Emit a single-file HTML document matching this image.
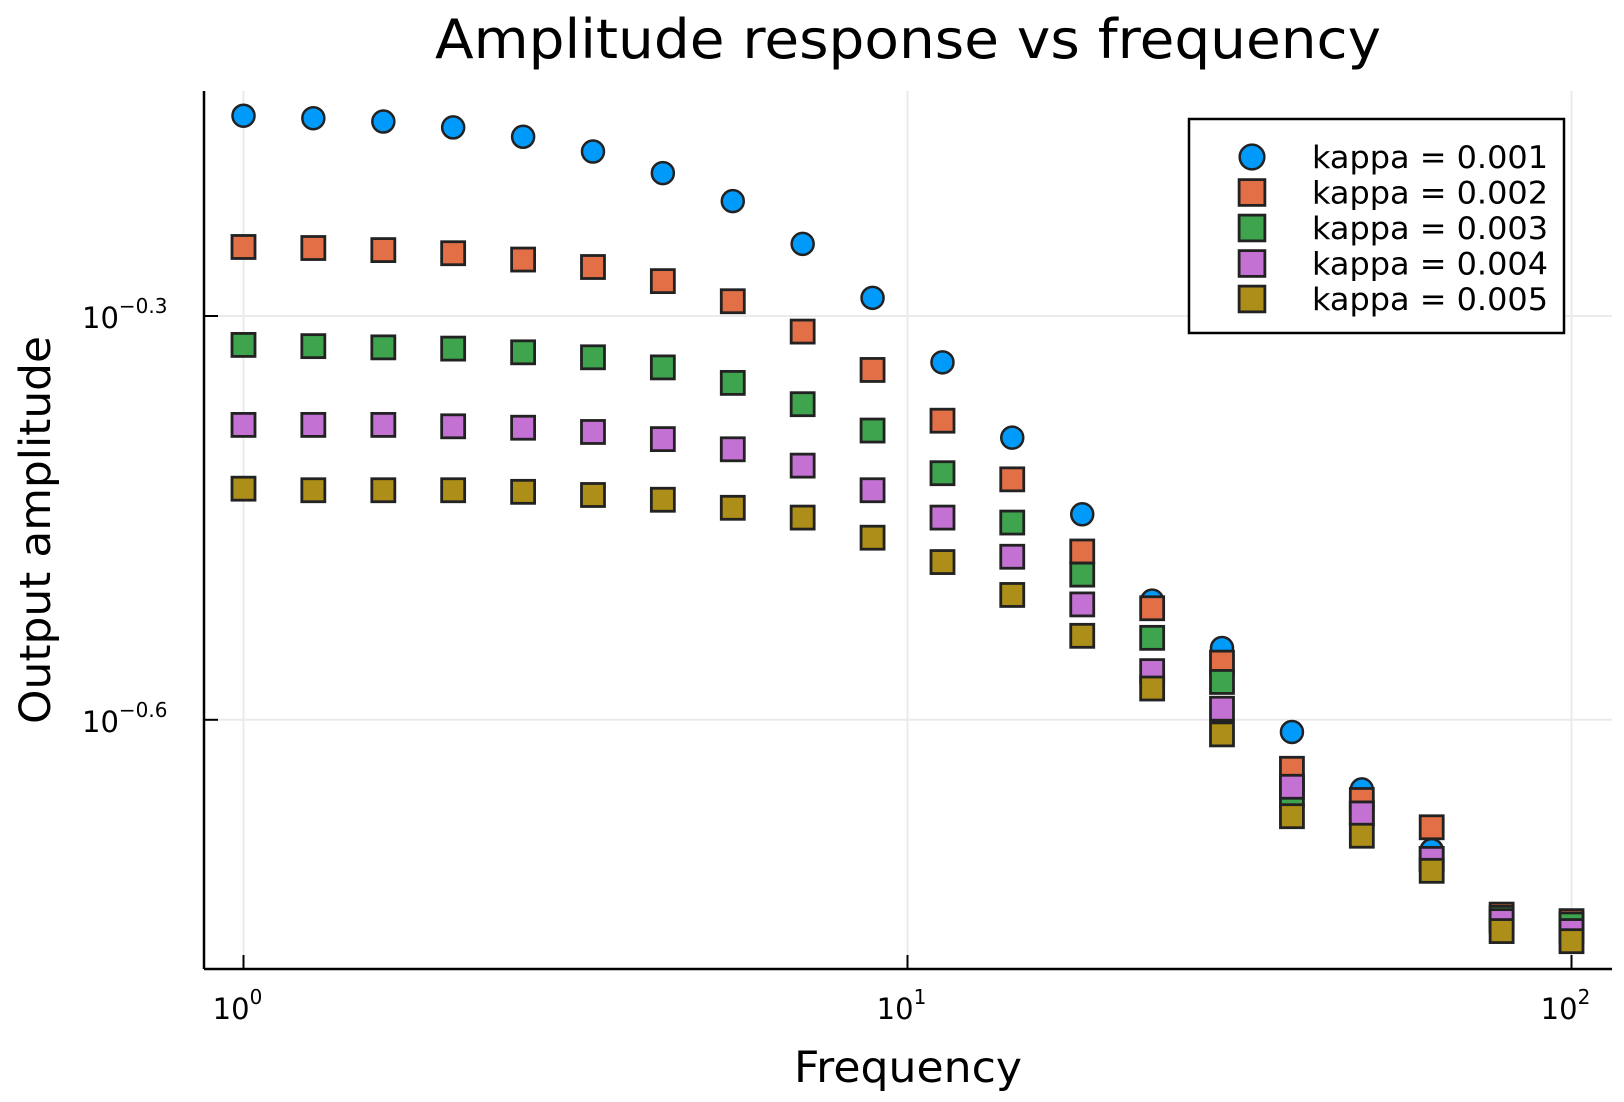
<!DOCTYPE html>
<html><head><meta charset="utf-8"><style>
html,body{margin:0;padding:0;background:#fff;}
svg{display:block;font-family:"DejaVu Sans","Liberation Sans",sans-serif;}
</style></head><body>
<svg id="chart" width="1624" height="1102" viewBox="0 0 1624 1102" xmlns="http://www.w3.org/2000/svg">
<rect width="1624" height="1102" fill="#fff"/>
<text x="908" y="58" text-anchor="middle" font-size="54" textLength="946" lengthAdjust="spacingAndGlyphs" fill="#000">Amplitude response vs frequency</text>
<text x="908" y="1082" text-anchor="middle" font-size="43" textLength="228" lengthAdjust="spacingAndGlyphs" fill="#000">Frequency</text>
<text transform="translate(50,530) rotate(-90)" text-anchor="middle" font-size="43" textLength="388" lengthAdjust="spacingAndGlyphs" fill="#000">Output amplitude</text>
<g id="grid"></g>
<g id="axes"></g>
<g id="marks"></g>
<g id="legend"></g>
</svg>
<script>
const freqs=[1,1.274,1.624,2.069,2.637,3.360,4.281,5.456,6.952,8.859,11.29,14.38,18.33,23.36,29.76,37.93,48.33,61.58,78.48,100];
const k001=[0.706,0.703,0.699,0.692,0.681,0.664,0.640,0.610,0.567,0.517,0.463,0.407,0.357,0.308,0.284,0.246,0.223,0.201,0.180,0.177];
const k002=[0.564,0.563,0.561,0.558,0.552,0.545,0.532,0.514,0.488,0.457,0.419,0.379,0.335,0.304,0.277,0.231,0.219,0.209,0.180,0.178];
const k003=[0.477,0.476,0.475,0.474,0.471,0.467,0.459,0.447,0.431,0.412,0.383,0.352,0.322,0.289,0.268,0.221,0.214,0.198,0.179,0.177];
const k004=[0.416,0.416,0.416,0.415,0.414,0.411,0.406,0.399,0.388,0.372,0.355,0.332,0.306,0.273,0.256,0.224,0.214,0.198,0.178,0.175];
const k005=[0.373,0.372,0.372,0.372,0.371,0.369,0.366,0.361,0.355,0.343,0.329,0.311,0.290,0.265,0.245,0.213,0.206,0.194,0.175,0.172];
const seriesNames=["kappa = 0.001","kappa = 0.002","kappa = 0.003","kappa = 0.004","kappa = 0.005"];
const xTickExps=["0","1","2"];
const yTickExps=["-0.3","-0.6"];

const NS="http://www.w3.org/2000/svg";
const L=204,R=1612,T=91,B=969;
function xs(f){return 243.5+Math.log10(f)*664;}
function ys(v){return 316+(-0.3-Math.log10(v))*1346;}
function mk(tag,attrs,parent){const e=document.createElementNS(NS,tag);for(const k in attrs)e.setAttribute(k,attrs[k]);parent.appendChild(e);return e;}
const grid=document.getElementById('grid'),axes=document.getElementById('axes'),marks=document.getElementById('marks'),leg=document.getElementById('legend');

xTickExps.forEach(e=>{
  const x=xs(Math.pow(10,+e));
  const g=mk('line',{x1:x,x2:x,y1:T,y2:B,stroke:'#ebebeb','stroke-width':2},grid);
  
  
  const t=mk('line',{x1:x,x2:x,y1:B,y2:B-14,stroke:'#000','stroke-width':2},axes);
  
  
  const tx=mk('text',{x:x-6,y:B+50,'text-anchor':'middle','font-size':29,fill:'#000'},axes);
  
  
  tx.textContent='10';
  const sp=mk('tspan',{dy:-15,'font-size':20},tx);sp.textContent=e;
});
yTickExps.forEach(e=>{
  const y=ys(Math.pow(10,+e));
  const g=mk('line',{x1:L,x2:R,y1:y,y2:y,stroke:'#ebebeb','stroke-width':2},grid);
  
  
  const t=mk('line',{x1:L,x2:L+14,y1:y,y2:y,stroke:'#000','stroke-width':2},axes);
  
  
  const tx=mk('text',{x:82,y:y+12,'font-size':29,fill:'#000'},axes);
  
  
  tx.textContent='10';
  const sp=mk('tspan',{dy:-15,'font-size':20},tx);sp.textContent=e.replace('-','\u2212');
});
const ax1=mk('line',{x1:L,x2:R,y1:B,y2:B,stroke:'#000','stroke-width':2.5},axes);


const ax2=mk('line',{x1:L,x2:L,y1:T,y2:B,stroke:'#000','stroke-width':2.5},axes);



const colors=['#009AFA','#E36F47','#3EA44E','#C371D2','#AC8E18'];
const data=[k001,k002,k003,k004,k005];
function marker(i,cx,cy,parent,s){
  let e;
  if(i===0){e=mk('circle',{cx:cx,cy:cy,r:11*s,fill:colors[i],stroke:'#222','stroke-width':2.5},parent);}
  else{const h=11.5*s;e=mk('rect',{x:cx-h,y:cy-h,width:2*h,height:2*h,fill:colors[i],stroke:'#222','stroke-width':2.8},parent);}
  return e;
}
data.forEach((arr,i)=>{
  arr.forEach((v,j)=>{
    const e=marker(i,xs(freqs[j]),ys(v),marks,1);
    
    
  });
});
const box=mk('rect',{x:1189,y:119,width:375,height:214,fill:'#fff',stroke:'#000','stroke-width':2.5},leg);


seriesNames.forEach((n,i)=>{
  const y=157+i*35.5;
  const m=marker(i,1252,y,leg,1.12);
  
  
  const t=mk('text',{x:1312,y:y+11,'font-size':31,textLength:236,lengthAdjust:'spacingAndGlyphs',fill:'#000'},leg);
  
  
  t.textContent=n;
});
</script>
</body></html>
